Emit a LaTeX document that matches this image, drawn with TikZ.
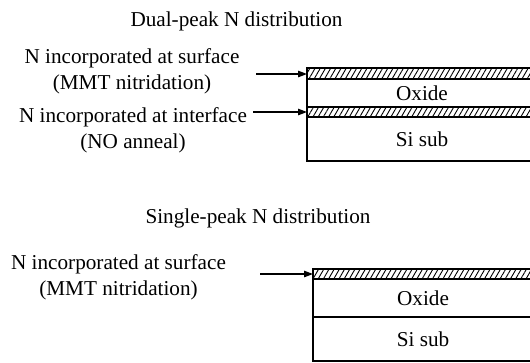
\documentclass[tikz,border=0pt]{standalone}
\usepackage{fontspec}
\setmainfont{Liberation Serif}
\usetikzlibrary{arrows.meta,patterns.meta}
\begin{document}
\begin{tikzpicture}[x=1pt,y=-1pt,
  lbl/.style={font=\fontsize{21.2}{26}\selectfont, align=center, inner sep=0pt},
  edge/.style={line width=1.3pt},
  hatch/.style={pattern={Lines[angle=60,distance=4.5pt,line width=0.9pt]}},
  arr/.style={line width=1.2pt, -{Triangle[length=9pt,width=6.5pt]}}]
\useasboundingbox (0,0) rectangle (530,362);
% titles
\node[lbl,anchor=base] (t1) at (236.5,26) {Dual-peak N distribution};
\node[lbl,anchor=base] (t2) at (258,223) {Single-peak N distribution};
% labels (anchor base = baseline of last line)
\node[lbl,anchor=base] (s1) at (132,89) {N incorporated at surface\\(MMT nitridation)};
\node[lbl,anchor=base] (i1) at (133,148) {N incorporated at interface\\(NO anneal)};
\node[lbl,anchor=base] (s2) at (118.5,295) {N incorporated at surface\\(MMT nitridation)};
% top stack
\fill[hatch] (307,68) rectangle (530,79);
\fill[hatch] (307,107) rectangle (530,117);
\draw[edge] (530,68) -- (307,68) -- (307,161) -- (530,161);
\draw[edge] (307,79) -- (530,79);
\draw[edge] (307,107) -- (530,107);
\draw[edge] (307,117) -- (530,117);
\node[lbl] (ox1) at (422,93) {Oxide};
\node[lbl] (si1) at (422,139) {Si sub};
% bottom stack
\fill[hatch] (313,269) rectangle (530,279);
\draw[edge] (530,269) -- (313,269) -- (313,361) -- (530,361);
\draw[edge] (313,279) -- (530,279);
\draw[line width=1.8pt] (313,317) -- (530,317);
\node[lbl] (ox2) at (423,298) {Oxide};
\node[lbl] (si2) at (423,339) {Si sub};
% arrows
\coordinate (a1) at (256,74);
\coordinate (a2) at (253,112);
\coordinate (a3) at (260,274);
\coordinate (l1) at (307,74);
\coordinate (l2) at (307,112);
\coordinate (l3) at (313,274);
\draw[arr] (a1) -- (l1);
\draw[arr] (a2) -- (l2);
\draw[arr] (a3) -- (l3);
\end{tikzpicture}
\end{document}
